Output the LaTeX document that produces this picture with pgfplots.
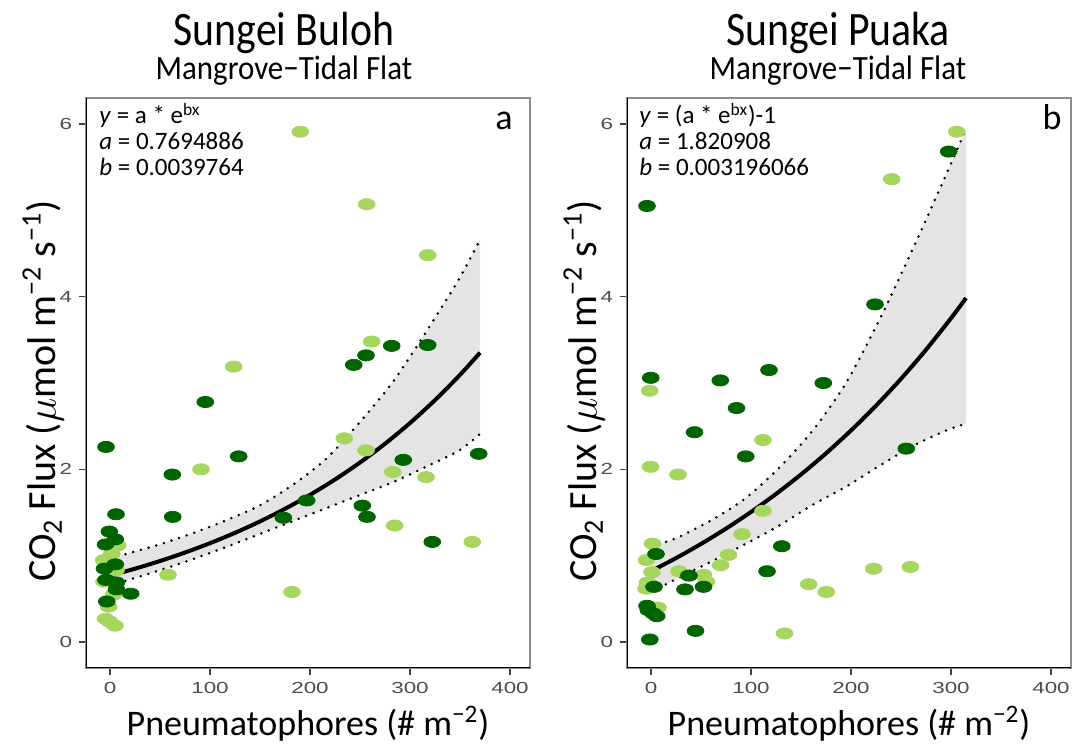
\documentclass[border=0pt]{standalone}
\usepackage{fontspec}
\setmainfont{Carlito}
\newfontfamily\tickfont{Liberation Sans}
\usepackage{graphicx}
\usepackage{pgfplots}
\pgfplotsset{compat=1.18}
\definecolor{dkg}{HTML}{006400}
\definecolor{ltg}{HTML}{A6D65E}
\definecolor{bandc}{HTML}{E4E4E4}
\definecolor{tickgrey}{HTML}{4D4D4D}
\newcommand{\tk}[1]{\scalebox{1.4}[1]{#1}}
\pgfplotsset{panel/.style={
  scale only axis, width=222bp, height=285bp,
  xmin=-24, xmax=420, ymin=-0.3, ymax=6.3,
  xtick={0,100,200,300,400}, xticklabels={\tk{0},\tk{100},\tk{200},\tk{300},\tk{400}},
  ytick={0,2,4,6}, yticklabels={\tk{0},\tk{2},\tk{4},\tk{6}},
  tick align=outside, xtick pos=left, ytick pos=left,
  major tick length=3.5bp,
  every tick/.style={black!75, line width=0.6bp},
  ticklabel style={font=\tickfont\fontsize{8bp}{9bp}\selectfont, text=tickgrey},
  axis line style={draw=black!45, line width=0.6bp},
  anchor=south west,
},
lt/.style={only marks, color=ltg, mark=*, mark size=2.8bp, mark options={xscale=1.5, fill=ltg, draw=ltg}},
dk/.style={only marks, color=dkg, mark=*, mark size=2.8bp, mark options={xscale=1.5, fill=dkg, draw=dkg}},
fitline/.style={black, line width=2bp, smooth, no marks},
ci/.style={black, line width=1.4bp, dash pattern=on 0pt off 4bp, line cap=round, no marks, smooth},
band/.style={fill=bandc, draw=none, no marks},
}
\begin{document}
\begin{tikzpicture}
\useasboundingbox (0,0) rectangle (536.5bp,372.5bp);
% ---------- left panel ----------
\begin{axis}[panel, at={(43bp,38.5bp)}]
\addplot[band] coordinates {(0,0.97)(16,1.02)(49.3,1.13)(82.7,1.26)(116,1.41)(149.3,1.58)(182.7,1.82)(216,2.12)(249.3,2.54)(282.7,3.01)(316,3.59)(349.3,4.21)(370,4.66)
 (370,2.41)(349.3,2.22)(316,2.03)(282.7,1.85)(249.3,1.70)(216,1.55)(182.7,1.40)(149.3,1.25)(116,1.10)(82.7,0.96)(49.3,0.83)(12.7,0.70)(0,0.66)} -- cycle;
\addplot[lt] coordinates {(190.3,5.91)(256.7,5.07)(317.7,4.48)(261.7,3.48)(123.7,3.19)(234.3,2.36)(256,2.22)(91,2.00)(282.7,1.97)(316,1.91)(284.7,1.35)(7.7,1.12)(362.3,1.16)(1.7,1.02)(-6.3,0.95)(6,0.83)(58,0.78)(-6,0.70)(3.5,0.55)(182,0.58)(-1.3,0.41)(-4.5,0.27)(-0.7,0.24)(5,0.19)};
\addplot[dk] coordinates {(281.7,3.43)(317.7,3.44)(256,3.32)(243.7,3.21)(95.3,2.78)(-4,2.26)(368.7,2.18)(128.7,2.15)(293.3,2.11)(62.3,1.94)(196.7,1.64)(252.3,1.58)(6,1.48)(62.7,1.45)(173.3,1.44)(257,1.45)(-0.7,1.28)(5.3,1.19)(-4.5,1.13)(322.3,1.16)(5.3,0.90)(-5.5,0.85)(-4,0.72)(6.5,0.69)(6.5,0.61)(20.7,0.56)(-3.2,0.47)};
\addplot[ci] coordinates {(0,0.97)(16,1.02)(49.3,1.13)(82.7,1.26)(116,1.41)(149.3,1.58)(182.7,1.82)(216,2.12)(249.3,2.54)(282.7,3.01)(316,3.59)(349.3,4.21)(370,4.66)};
\addplot[ci] coordinates {(0,0.66)(12.7,0.70)(49.3,0.83)(82.7,0.96)(116,1.10)(149.3,1.25)(182.7,1.40)(216,1.55)(249.3,1.70)(282.7,1.85)(316,2.03)(349.3,2.22)(370,2.41)};
\addplot[fitline] coordinates {(0,0.7695)(25,0.850)(50,0.9388)(75,1.0369)(100,1.1453)(125,1.2650)(150,1.3972)(175,1.5432)(200,1.7045)(225,1.8827)(250,2.0794)(275,2.2967)(300,2.5367)(325,2.8019)(350,3.0947)(370,3.3509)};
\draw[black, line width=1.1bp] (rel axis cs:0,1) -- (rel axis cs:0,0) -- (rel axis cs:1,0);
\end{axis}
% ---------- right panel ----------
\begin{axis}[panel, at={(313.5bp,38.5bp)}]
\addplot[band] coordinates {(0,1.10)(10,1.14)(28.3,1.22)(61.7,1.42)(95,1.67)(128.3,2.02)(161.7,2.45)(195,3.00)(228.3,3.73)(261.7,4.55)(295,5.41)(315,5.94)
 (315,2.53)(295,2.45)(261.7,2.27)(228.3,2.04)(195,1.80)(161.7,1.59)(128.3,1.35)(95,1.14)(61.7,0.94)(28.3,0.75)(10,0.64)(0,0.60)} -- cycle;
\addplot[lt] coordinates {(305.7,5.91)(240.7,5.36)(-1.3,2.91)(112,2.34)(-0.5,2.03)(27,1.94)(112,1.52)(91,1.25)(1.5,1.14)(77.5,1.01)(-4.5,0.95)(69.5,0.89)(222.7,0.85)(259.3,0.87)(1,0.81)(28,0.82)(52.5,0.78)(55.5,0.70)(-3.5,0.69)(-5,0.62)(157.7,0.67)(175.3,0.58)(7,0.40)(133.5,0.10)};
\addplot[dk] coordinates {(297.7,5.68)(-4,5.05)(224,3.91)(118,3.15)(-0.3,3.06)(69.3,3.03)(172.3,3.00)(85.5,2.71)(43.5,2.43)(255.3,2.24)(94.7,2.15)(130.8,1.11)(5,1.02)(116,0.82)(38,0.77)(3,0.64)(34,0.61)(52.5,0.64)(-4,0.42)(-2.7,0.37)(2.3,0.33)(5.7,0.30)(44.5,0.13)(-1.2,0.03)};
\addplot[ci] coordinates {(0,1.10)(10,1.14)(28.3,1.22)(61.7,1.42)(95,1.67)(128.3,2.02)(161.7,2.45)(195,3.00)(228.3,3.73)(261.7,4.55)(295,5.41)(315,5.94)};
\addplot[ci] coordinates {(0,0.60)(10,0.64)(28.3,0.75)(61.7,0.94)(95,1.14)(128.3,1.35)(161.7,1.59)(195,1.80)(228.3,2.04)(261.7,2.27)(295,2.45)(315,2.53)};
\addplot[fitline] coordinates {(0,0.8209)(25,0.9724)(50,1.1365)(75,1.3142)(100,1.5067)(125,1.7152)(150,1.9410)(175,2.1857)(200,2.4507)(225,2.7376)(250,3.0486)(275,3.3853)(300,3.7501)(315,3.9835)};
\draw[black, line width=1.1bp] (rel axis cs:0,1) -- (rel axis cs:0,0) -- (rel axis cs:1,0);
\end{axis}
% ---------- titles ----------
\node[anchor=base, inner sep=0pt, font=\fontsize{24bp}{28bp}\selectfont] at (142bp,349.5bp) {\scalebox{0.87}[1]{Sungei Buloh}};
\node[anchor=base, inner sep=0pt, font=\fontsize{17bp}{20bp}\selectfont] at (142bp,332.5bp) {\scalebox{0.91}[1]{Mangrove\textminus Tidal Flat}};
\node[anchor=base, inner sep=0pt, font=\fontsize{24bp}{28bp}\selectfont] at (419bp,349.5bp) {\scalebox{0.87}[1]{Sungei Puaka}};
\node[anchor=base, inner sep=0pt, font=\fontsize{17bp}{20bp}\selectfont] at (419bp,332.5bp) {\scalebox{0.91}[1]{Mangrove\textminus Tidal Flat}};
% ---------- axis labels ----------
\node[anchor=base, inner sep=0pt, font=\fontsize{18bp}{21bp}\selectfont] at (154bp,5bp) {Pneumatophores (\# m\textsuperscript{\textminus 2})};
\node[anchor=base, inner sep=0pt, font=\fontsize{18bp}{21bp}\selectfont] at (424.5bp,5bp) {Pneumatophores (\# m\textsuperscript{\textminus 2})};
\node[rotate=90, anchor=center, inner sep=0pt, font=\fontsize{20bp}{23bp}\selectfont] at (21.5bp,177bp) {CO\textsubscript{2} Flux ($\mu$mol m\textsuperscript{\textminus 2} s\textsuperscript{\textminus 1})};
\node[rotate=90, anchor=center, inner sep=0pt, font=\fontsize{20bp}{23bp}\selectfont] at (292bp,177bp) {CO\textsubscript{2} Flux ($\mu$mol m\textsuperscript{\textminus 2} s\textsuperscript{\textminus 1})};
% ---------- annotations ----------
\begin{scope}[every node/.style={anchor=base west, inner sep=0pt, font=\fontsize{12.5bp}{15bp}\selectfont}]
\node at (49.5bp,310.5bp) {\textit{y} = a * e\textsuperscript{bx}};
\node at (49.5bp,297.5bp) {\textit{a} = 0.7694886};
\node at (49.5bp,284.5bp) {\textit{b} = 0.0039764};
\node at (319.5bp,310.5bp) {\textit{y} = (a * e\textsuperscript{bx})-1};
\node at (319.5bp,297.5bp) {\textit{a} = 1.820908};
\node at (319.5bp,284.5bp) {\textit{b} = 0.003196066};
\end{scope}
\node[anchor=base east, inner sep=0pt, font=\fontsize{18bp}{20bp}\selectfont] at (256.5bp,307.5bp) {a};
\node[anchor=base east, inner sep=0pt, font=\fontsize{18bp}{20bp}\selectfont] at (531bp,307.5bp) {b};
\end{tikzpicture}
\end{document}
